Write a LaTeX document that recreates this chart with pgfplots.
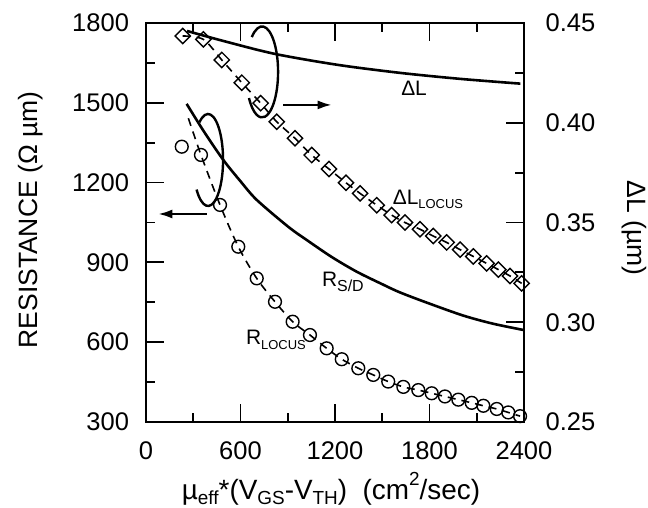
\documentclass[border=0pt]{standalone}
\usepackage{fontspec}
\setmainfont{Liberation Sans}
\usepackage{pgfplots}
\pgfplotsset{compat=1.18}
\usetikzlibrary{arrows.meta}
\newcommand\sub[2]{\raisebox{-0.4ex}{\fontsize{#1}{#1}\selectfont #2}}
\begin{document}
\begin{tikzpicture}
\pgfplotsset{
  every axis/.append style={scale only axis,width=189bp,height=199.5bp,xmin=0,xmax=2400,
    line width=1bp,tick style={line width=0.9bp,black},major tick length=9bp,minor tick length=4.5bp,
    tick align=inside,/pgf/number format/assume math mode=true,/pgf/number format/1000 sep={},
    tick label style={font=\fontsize{12.8}{14}\selectfont}},
}
% left axis: resistance
\begin{axis}[ymin=300,ymax=1800,ytick={300,600,...,1800},minor y tick num=1,
  xtick={0,600,...,2400},minor x tick num=1,xtick pos=both,ytick pos=left,
  xticklabel style={yshift=-6bp},yticklabel style={xshift=-4.7bp}]
% R_S/D
\addplot[black,line width=1.3bp,smooth] coordinates {
(258,1496)(370,1390)(491,1285)(600,1205)(703,1135)(903,1034)(1021,984)(1180,920)
(1338,865)(1500,818)(1613,787)(1800,745)(2015,700)(2200,670)(2396,646)};
% R_LOCUS fit
\addplot[black,line width=0.8bp,dash pattern=on 4bp off 3bp,smooth] coordinates {
(269,1442)(349,1304)(470,1116)(586,959)(703,840)(819,752)(931,677)(1041,627)(1147,577)
(1243,536)(1348,502)(1443,477)(1538,452)(1634,432)(1729,420)(1814,408)(1898,396)
(1983,384)(2068,372)(2142,361)(2227,349)(2300,336)(2375,322)};
% R_LOCUS points
\addplot[only marks,mark=o,mark size=3.2bp,mark options={line width=0.7bp,black}] coordinates {
(227,1335)(349,1304)(470,1116)(586,959)(703,840)(819,752)(931,677)(1041,627)(1147,577)
(1243,536)(1348,502)(1443,477)(1538,452)(1634,432)(1729,420)(1814,408)(1898,396)
(1983,384)(2068,372)(2142,361)(2227,349)(2300,336)(2375,322)};
% annotations
\draw[line width=1.2bp] ([shift={(130:8bp and 22.75bp)}]axis cs:737,1616)
  arc[start angle=130,end angle=-145,x radius=8bp,y radius=22.75bp];
\draw[line width=1.2bp] ([shift={(125:7.5bp and 23bp)}]axis cs:394,1285)
  arc[start angle=125,end angle=-140,x radius=7.5bp,y radius=23bp];
\draw[line width=1.1bp,-{Latex[length=7bp,width=4.5bp]}] (axis cs:872,1492)--(axis cs:1179,1492);
\draw[line width=1.1bp,-{Latex[length=7bp,width=4.5bp]}] (axis cs:385,1082)--(axis cs:78,1082);
\node[font=\fontsize{10.5}{12}\selectfont] at (axis cs:1702,1556) {ΔL};
\node[font=\fontsize{10.5}{12}\selectfont] at (axis cs:1790,1138) {ΔL\sub{6.5}{LOCUS}};
\node[font=\fontsize{10.5}{12}\selectfont] at (axis cs:1250,826) {R\sub{8}{S/D}};
\node[font=\fontsize{10.5}{12}\selectfont] at (axis cs:825,608) {R\sub{6.5}{LOCUS}};
\end{axis}
% right axis: Delta L
\begin{axis}[ymin=0.25,ymax=0.45,ytick={0.25,0.30,...,0.45},minor y tick num=1,
  axis y line*=right,axis x line=none,ytick pos=right,
  yticklabel style={xshift=7bp,/pgf/number format/fixed,/pgf/number format/fixed zerofill,/pgf/number format/precision=2}]
% Delta L
\addplot[black,line width=1.3bp,smooth] coordinates {
(261,0.4460)(491,0.4410)(819,0.4345)(1219,0.4290)(1613,0.4250)(1994,0.4220)(2377,0.4196)};
% Delta L_LOCUS fit
\addplot[black,line width=0.8bp,dash pattern=on 4bp off 3bp,smooth] coordinates {
(233,0.4435)(364,0.4418)(481,0.4315)(608,0.4201)(728,0.4098)(830,0.4005)(946,0.3922)
(1052,0.3838)(1162,0.3768)(1270,0.3699)(1359,0.3646)(1465,0.3587)(1560,0.3537)(1644,0.3500)
(1740,0.3466)(1824,0.3432)(1909,0.3400)(1994,0.3364)(2078,0.3330)(2163,0.3295)(2237,0.3264)
(2311,0.3232)(2385,0.3195)};
% Delta L_LOCUS points
\addplot[only marks,mark=square,mark size=2.7bp,mark options={rotate=45,line width=0.7bp,black}] coordinates {
(233,0.4435)(364,0.4418)(481,0.4315)(608,0.4201)(728,0.4098)(830,0.4005)(946,0.3922)
(1052,0.3838)(1162,0.3768)(1270,0.3699)(1359,0.3646)(1465,0.3587)(1560,0.3537)(1644,0.3500)
(1740,0.3466)(1824,0.3432)(1909,0.3400)(1994,0.3364)(2078,0.3330)(2163,0.3295)(2237,0.3264)
(2311,0.3232)(2385,0.3195)};
\end{axis}
\node[rotate=90,anchor=base,font=\fontsize{13.3}{15}\selectfont] at (-54bp,101bp) {RESISTANCE (Ω µm)};
\node[anchor=base,font=\fontsize{14}{16}\selectfont] at (92.5bp,-38.5bp)
  {µ\sub{9.5}{eff}*(V\sub{9.5}{GS}-V\sub{9.5}{TH})\ \ (cm\raisebox{0.9ex}{\fontsize{9.5}{10}\selectfont 2}/sec)};
\node[rotate=-90,anchor=base,font=\fontsize{13.3}{15}\selectfont] at (240.5bp,97bp) {ΔL (µm)};
\pgfresetboundingbox
\path (-73bp,-43bp) rectangle (251bp,211bp);
\end{tikzpicture}
\end{document}
